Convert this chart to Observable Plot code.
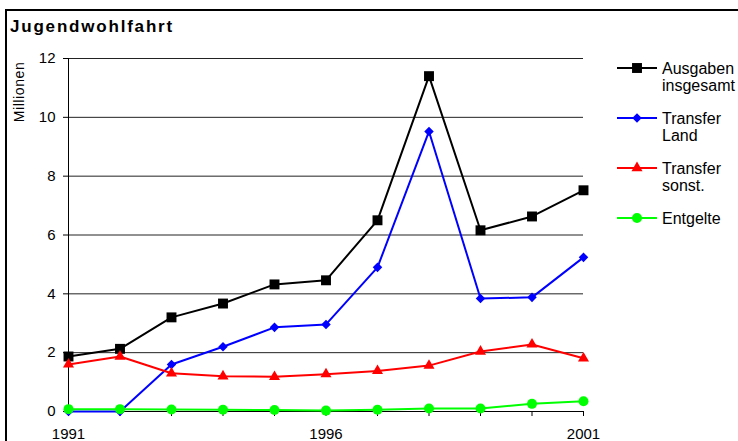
<!DOCTYPE html>
<html>
<head>
<meta charset="utf-8">
<script src="https://cdn.jsdelivr.net/npm/d3@7"></script>
<script src="https://cdn.jsdelivr.net/npm/@observablehq/plot@0.6"></script>
<style>
  html, body { margin: 0; padding: 0; background: #fff; }
  #wrap { position: relative; width: 738px; height: 441px; overflow: hidden; font-family: "Liberation Sans", Arial, sans-serif; color: #000; }
  #frame { position: absolute; left: 5px; top: 9px; width: 740px; height: 440px; border-top: 2px solid #000; border-left: 2px solid #000; }
  #title { position: absolute; left: 10px; top: 17px; font-size: 17px; line-height: 20px; font-weight: bold; letter-spacing: 1.8px; white-space: nowrap; }
  #ylabel { position: absolute; left: 19px; top: 92px; font-size: 14px; letter-spacing: 0.6px; white-space: nowrap; transform: translate(-50%, -50%) rotate(-90deg); }
  #chart { position: absolute; left: 0; top: 0; }
  .item { position: absolute; left: 617px; display: flex; align-items: flex-start; }
  .item svg { display: block; }
  .item .txt { margin-left: 5px; font-size: 16px; line-height: 17px; white-space: nowrap; }
</style>
</head>
<body>
<div id="wrap">
  <div id="chart"></div>
  <div id="frame"></div>
  <div id="title">Jugendwohlfahrt</div>
  <div id="ylabel">Millionen</div>
  <div id="legend"></div>
</div>
<script>
// ---- data ----
const years = [1991, 1992, 1993, 1994, 1995, 1996, 1997, 1998, 1999, 2000, 2001];
const ausgabenInsgesamt = [1.87, 2.13, 3.2, 3.67, 4.32, 4.46, 6.5, 11.4, 6.16, 6.63, 7.52];
const transferLand      = [0.0, 0.0, 1.6, 2.2, 2.86, 2.96, 4.9, 9.52, 3.84, 3.88, 5.24];
const transferSonst     = [1.6, 1.87, 1.3, 1.2, 1.18, 1.27, 1.38, 1.56, 2.04, 2.28, 1.81];
const entgelte          = [0.08, 0.08, 0.07, 0.06, 0.05, 0.03, 0.06, 0.1, 0.1, 0.26, 0.35];
const seriesNames = ["Ausgaben insgesamt", "Transfer Land", "Transfer sonst.", "Entgelte"];
const legendLines = [["Ausgaben", "insgesamt"], ["Transfer", "Land"], ["Transfer", "sonst."], ["Entgelte"]];
const seriesColors = ["#000000", "#0000ff", "#ff0000", "#00ff00"];
const seriesSymbols = ["square", "diamond2", "triangle", "circle"];
const yTicks = [0, 2, 4, 6, 8, 10, 12];
const gridValues = [2, 4, 6, 8, 10, 12];
const labeledYears = [1991, 1996, 2001];

// ---- build table ----
const seriesValues = [ausgabenInsgesamt, transferLand, transferSonst, entgelte];
const rows = [];
seriesNames.forEach((name, s) => {
  years.forEach((yr, i) => rows.push({year: yr, value: seriesValues[s][i], name}));
});

const markerR = {"Ausgaben insgesamt": 5.6, "Transfer Land": 4.3, "Transfer sonst.": 4.1, "Entgelte": 5};

const marks = [
  Plot.ruleY(gridValues, {stroke: "#222", strokeWidth: 1}),
  Plot.ruleX([years[0]], {stroke: "#000", strokeWidth: 1}),
  Plot.ruleY([0], {stroke: "#000", strokeWidth: 1}),
  Plot.axisY({ticks: yTicks, tickSize: 5, tickPadding: 8, label: null, fontSize: 15, tickFormat: d => String(d)}),
  Plot.axisX({ticks: years, tickSize: 5, tickPadding: 12, label: null, fontSize: 15,
              tickFormat: d => labeledYears.includes(d) ? String(d) : ""})
];
seriesNames.forEach((name, s) => {
  const data = rows.filter(r => r.name === name);
  marks.push(Plot.line(data, {x: "year", y: "value", stroke: seriesColors[s], strokeWidth: 2}));
  marks.push(Plot.dot(data, {x: "year", y: "value", fill: seriesColors[s], stroke: "none",
                             symbol: () => seriesSymbols[s], r: markerR[name]}));
});

const chart = Plot.plot({
  width: 738,
  height: 441,
  marginLeft: 68,
  marginRight: 155,
  marginTop: 58,
  marginBottom: 30,
  x: {type: "linear", domain: [years[0], years[years.length - 1]]},
  y: {domain: [0, 12]},
  symbol: {type: "identity"},
  style: {fontFamily: "'Liberation Sans', Arial, sans-serif", fontSize: "15px", color: "#000", background: "transparent", overflow: "visible"},
  marks
});
document.getElementById("chart").appendChild(chart);

// ---- legend ----
const legend = document.getElementById("legend");
const tops = [60, 110, 160, 210];
seriesNames.forEach((name, s) => {
  const item = document.createElement("div");
  item.className = "item";
  item.style.top = tops[s] + "px";
  const svg = d3.create("svg").attr("width", 40).attr("height", 17);
  svg.append("line").attr("x1", 0).attr("x2", 40).attr("y1", 8).attr("y2", 8)
     .attr("stroke", seriesColors[s]).attr("stroke-width", 2);
  const symMap = {square: d3.symbolSquare, diamond2: d3.symbolDiamond2, triangle: d3.symbolTriangle, circle: d3.symbolCircle};
  const rr = markerR[name];
  svg.append("path").attr("transform", "translate(20,8)")
     .attr("d", d3.symbol(symMap[seriesSymbols[s]], rr * rr * Math.PI)())
     .attr("fill", seriesColors[s]);
  item.appendChild(svg.node());
  const txt = document.createElement("div");
  txt.className = "txt";
  txt.innerHTML = legendLines[s].join("<br>");
  item.appendChild(txt);
  legend.appendChild(item);
});
</script>
</body>
</html>
